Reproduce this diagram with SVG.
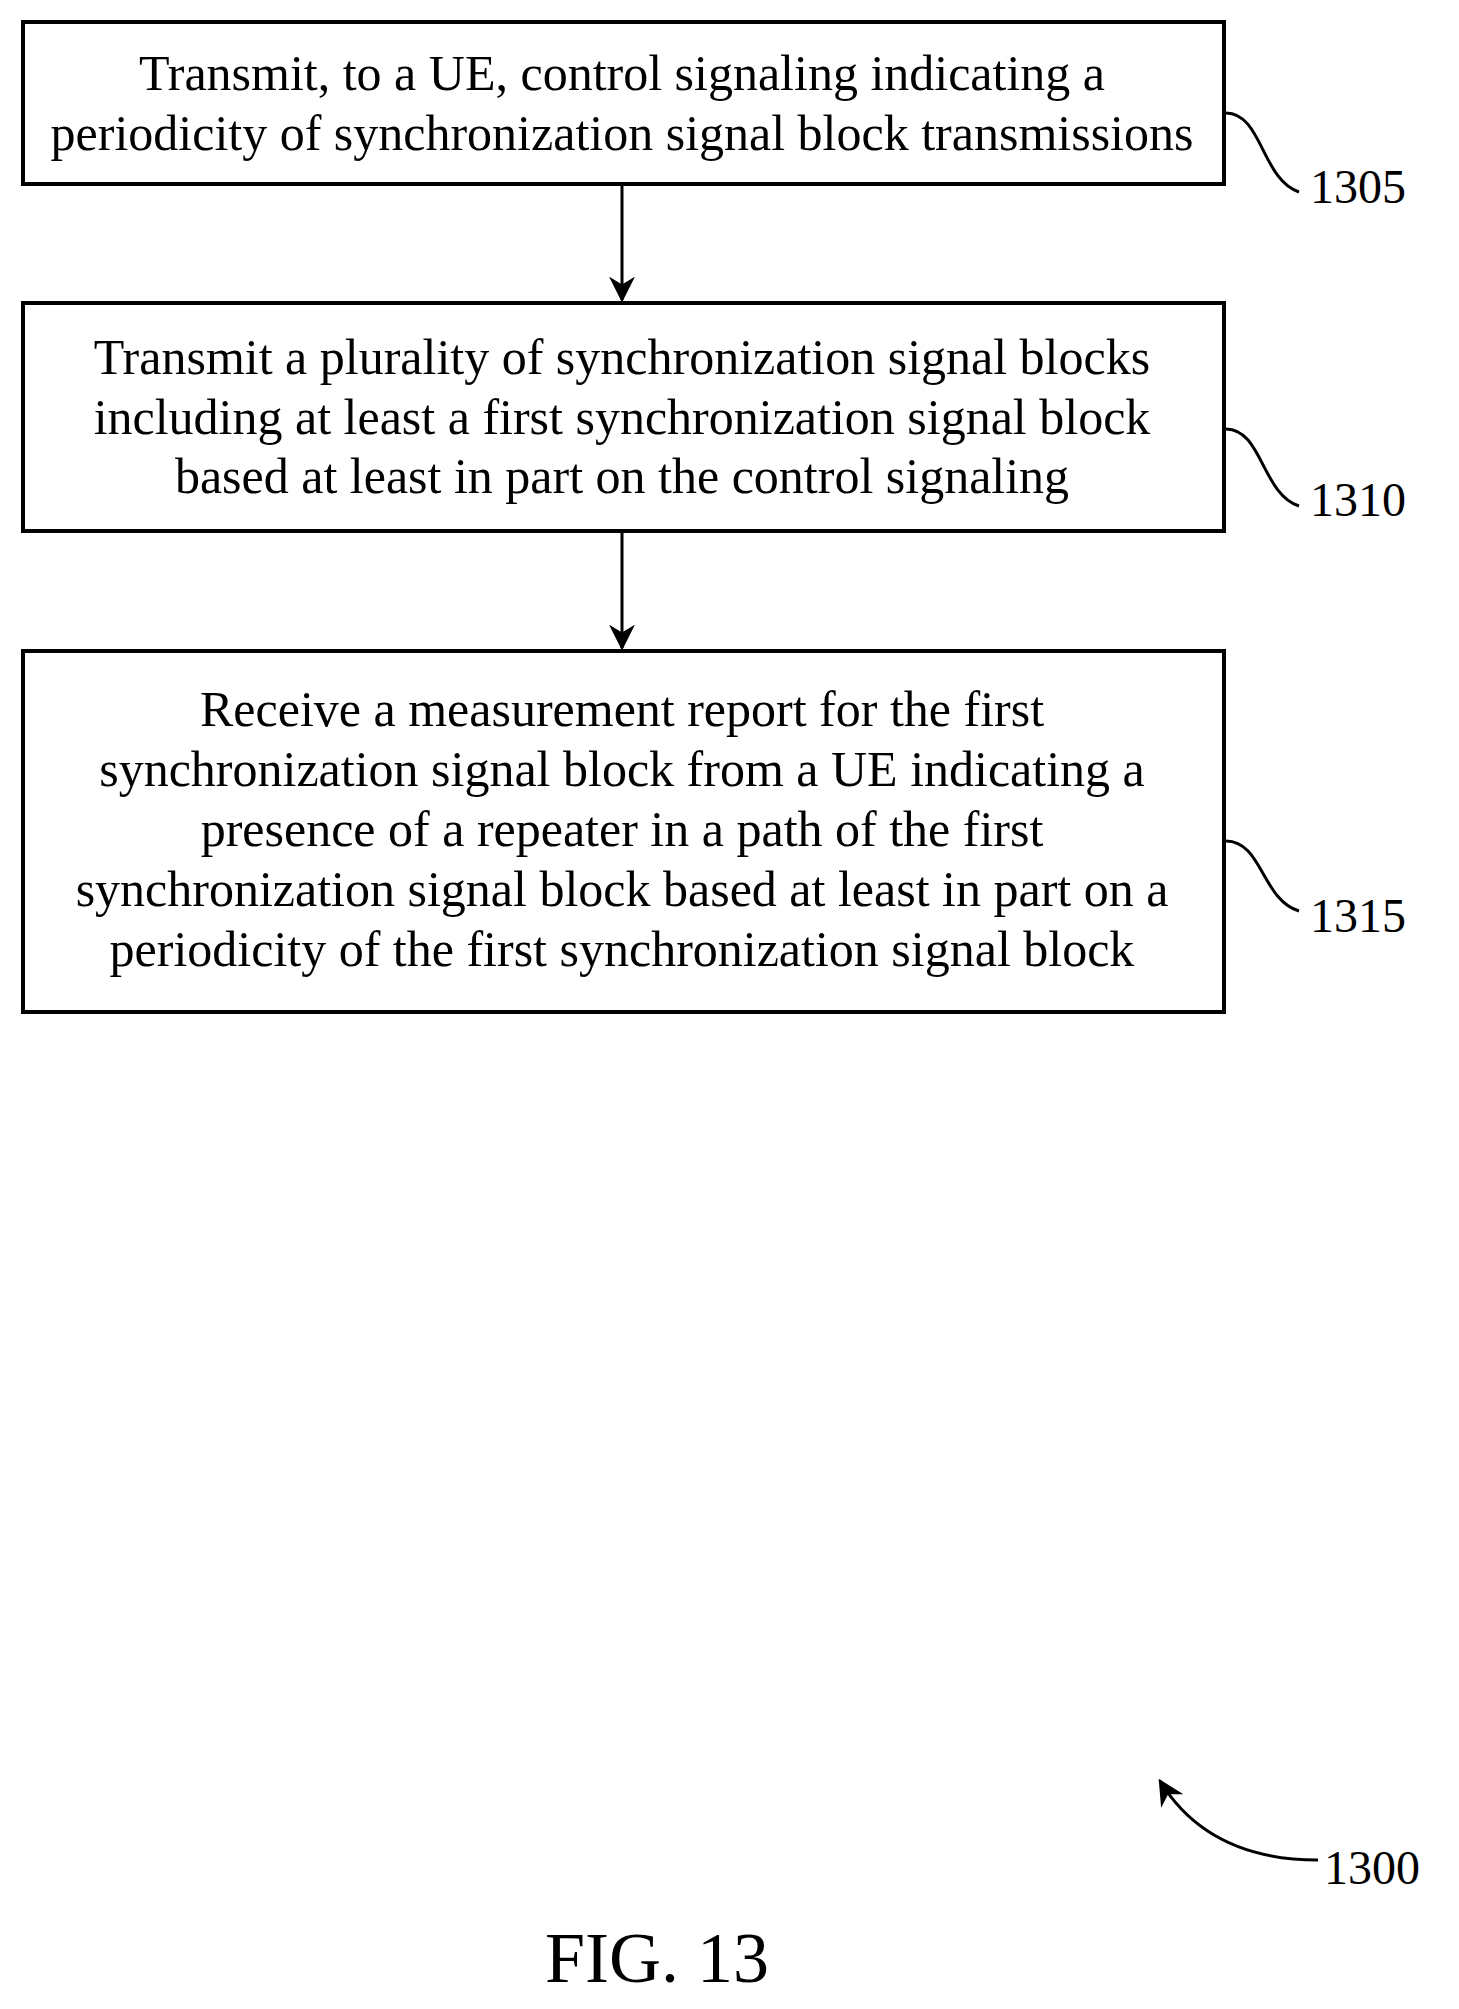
<svg xmlns="http://www.w3.org/2000/svg" width="1459" height="2009" viewBox="0 0 1459 2009">
<style>
.b{fill:#fff;stroke:#000;stroke-width:4}
.t{font-family:"Liberation Serif",serif;font-size:50px;text-anchor:middle;fill:#000}
.l{font-family:"Liberation Serif",serif;font-size:48px;fill:#000}
.c{fill:none;stroke:#000;stroke-width:3}
</style>
<defs>
<marker id="h" viewBox="0 0 10 10" refX="9" refY="5" markerWidth="26" markerHeight="26" orient="auto" markerUnits="userSpaceOnUse"><path d="M0,0L10,5L0,10L3,5z"/></marker></defs>
<g id="n1305"><rect class="b" x="23" y="22" width="1201" height="162"/>
<text class="t" x="622" y="90">Transmit, to a UE, control signaling indicating a</text>
<text class="t" x="622" y="150">periodicity of synchronization signal block transmissions</text>
<path class="c" d="M1226,113 C1262,113 1262,180 1299,192"/><text class="l" x="1310" y="203">1305</text></g>
<g id="n1310"><rect class="b" x="23" y="303" width="1201" height="228"/>
<text class="t" x="622" y="374">Transmit a plurality of synchronization signal blocks</text>
<text class="t" x="622" y="434">including at least a first synchronization signal block</text>
<text class="t" x="622" y="493">based at least in part on the control signaling</text>
<path class="c" d="M1226,429 C1262,429 1262,494 1299,506"/><text class="l" x="1310" y="516">1310</text></g>
<g id="n1315"><rect class="b" x="23" y="651" width="1201" height="361"/>
<text class="t" x="622" y="726">Receive a measurement report for the first</text>
<text class="t" x="622" y="786">synchronization signal block from a UE indicating a</text>
<text class="t" x="622" y="846">presence of a repeater in a path of the first</text>
<text class="t" x="622" y="906">synchronization signal block based at least in part on a</text>
<text class="t" x="622" y="966">periodicity of the first synchronization signal block</text>
<path class="c" d="M1226,841 C1262,841 1262,900 1299,911"/><text class="l" x="1310" y="932">1315</text></g>
<g id="connectors">
<line class="c" x1="622" y1="186" x2="622" y2="300" marker-end="url(#h)"/>
<line class="c" x1="622" y1="533" x2="622" y2="648" marker-end="url(#h)"/>
<path class="c" d="M1318,1860 C1240,1860 1190,1830 1160,1781" marker-end="url(#h)"/>
</g>
<text class="l" x="1324" y="1884">1300</text>
<text class="t" x="657" y="1982" style="font-size:72px">FIG. 13</text>
</svg>
